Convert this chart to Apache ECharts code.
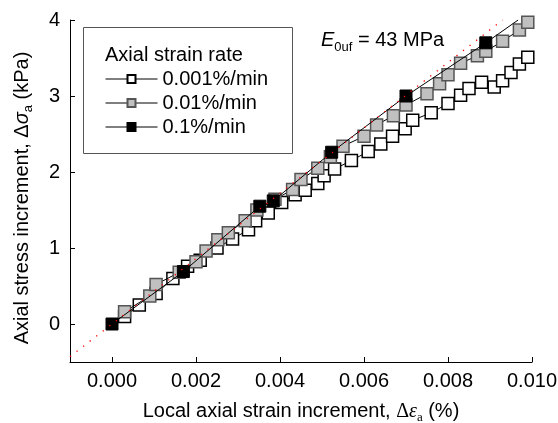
<!DOCTYPE html>
<html>
<head>
<meta charset="utf-8">
<script src="https://cdn.jsdelivr.net/npm/echarts@6/dist/echarts.min.js"></script>
<style>
  html, body { margin: 0; padding: 0; background: #fff; }
  #chart { width: 558px; height: 423px; }
</style>
</head>
<body>
<div id="chart"></div>
<script>
// tick labels
const xTicks = [0, 0.002, 0.004, 0.006, 0.008, 0.010];
const yTicks = [0, 1, 2, 3, 4];

// legend names
const rateNames = ['0.001%/min', '0.01%/min', '0.1%/min'];

// 0.001%/min (white squares)
const slowPts = [
  [0.0003, 0.10], [0.00065, 0.25], [0.00105, 0.40], [0.00145, 0.60], [0.0018, 0.76],
  [0.0021, 0.84], [0.0025, 1.00], [0.00287, 1.12], [0.00325, 1.24], [0.00342, 1.36],
  [0.00372, 1.46], [0.00404, 1.60], [0.00436, 1.70], [0.0046, 1.76], [0.0049, 1.85],
  [0.00505, 1.95], [0.0053, 2.04], [0.0057, 2.15], [0.0061, 2.27], [0.0064, 2.37],
  [0.00668, 2.47], [0.00698, 2.57], [0.00716, 2.68], [0.0076, 2.78], [0.0080, 2.90],
  [0.0083, 3.01], [0.0085, 3.10], [0.0088, 3.18], [0.0091, 3.12], [0.0093, 3.20],
  [0.0095, 3.31], [0.0097, 3.42], [0.0099, 3.51]
];

// 0.01%/min (grey squares)
const midPts = [
  [0.0003, 0.16], [0.0009, 0.37], [0.00105, 0.52], [0.0016, 0.68], [0.0020, 0.82],
  [0.00224, 0.96], [0.00252, 1.11], [0.00277, 1.20], [0.00317, 1.36], [0.00345, 1.50],
  [0.00388, 1.64], [0.0043, 1.77], [0.0045, 1.90], [0.0049, 2.05], [0.0052, 2.20],
  [0.0055, 2.34], [0.0060, 2.47], [0.0063, 2.62], [0.0067, 2.74], [0.0070, 2.88],
  [0.0075, 3.03], [0.0078, 3.16], [0.0080, 3.28], [0.0083, 3.43], [0.0087, 3.53],
  [0.0089, 3.59], [0.0093, 3.72], [0.0097, 3.87], [0.0099, 3.97]
];

// 0.1%/min (black squares) + end of its line
const fastPts = [
  [0, 0], [0.0017, 0.69], [0.00352, 1.55], [0.00384, 1.62], [0.00523, 2.26],
  [0.0070, 3.00], [0.0089, 3.70]
];
const fastLineEnd = [0.00967, 4.0];

// E0uf = 43 MPa reference line (red dots)
const modulusLine = [[-0.001, -0.43], [0.0093, 4.0]];

const FONT = 'Liberation Sans';

const chart = echarts.init(document.getElementById('chart'));

const squareSeries = function (name, pts, fill, border, z) {
  return {
    name: name,
    type: 'line',
    data: pts,
    symbol: 'rect',
    symbolSize: 12,
    z: z,
    itemStyle: { color: fill, borderColor: border, borderWidth: 1.5 },
    lineStyle: { color: '#000', width: 1 }
  };
};

const option = {
  animation: false,
  textStyle: { fontFamily: FONT },
  grid: { left: 70, right: 26, top: 20, bottom: 61, containLabel: false, outerBoundsMode: 'none' },
  title: {
    text: 'Axial strain rate',
    left: 100,
    top: 40,
    textStyle: { fontFamily: FONT, fontSize: 20, fontWeight: 'normal', color: '#000' }
  },
  legend: {
    data: rateNames,
    orient: 'vertical',
    left: 100,
    top: 64,
    itemWidth: 52,
    itemHeight: 10,
    itemGap: 4,
    textStyle: { fontFamily: FONT, fontSize: 20, color: '#000' },
    lineStyle: { color: '#000', width: 1 }
  },
  xAxis: {
    type: 'value',
    min: -0.001,
    max: 0.010,
    name: 'Local axial strain increment, {d|Δ}{e|ε}{sub|a} (%)',
    nameLocation: 'middle',
    nameGap: 37,
    nameTextStyle: {
      fontFamily: FONT, fontSize: 20, color: '#000',
      rich: {
        d: { fontFamily: 'Liberation Serif', fontSize: 20, color: '#000' },
        e: { fontFamily: 'Liberation Serif', fontStyle: 'italic', fontSize: 20, color: '#000' },
        sub: { fontFamily: 'Liberation Serif', fontSize: 13, color: '#000', padding: [12, 0, 0, 0] }
      }
    },
    splitLine: { show: false },
    axisLine: { onZero: false, lineStyle: { color: '#000', width: 1 } },
    axisTick: { inside: true, length: 5, customValues: xTicks, lineStyle: { color: '#000' } },
    axisLabel: {
      customValues: xTicks, margin: 9, fontSize: 20, color: '#000', fontFamily: FONT,
      formatter: v => v.toFixed(3)
    }
  },
  yAxis: {
    type: 'value',
    min: -0.5,
    max: 4,
    splitLine: { show: false },
    axisLine: { onZero: false, lineStyle: { color: '#000', width: 1 } },
    axisTick: { inside: true, length: 5, customValues: yTicks, lineStyle: { color: '#000' } },
    axisLabel: { customValues: yTicks, margin: 10, fontSize: 20, color: '#000', fontFamily: FONT }
  },
  graphic: [
    {
      type: 'rect',
      shape: { x: 83.5, y: 27.5, width: 209, height: 126 },
      style: { fill: 'none', stroke: '#555', lineWidth: 1 },
      z: 5
    },
    {
      // y axis title
      type: 'text',
      x: 22,
      y: 198,
      rotation: Math.PI / 2,
      style: {
        text: 'Axial stress increment, Δ{s|σ}{sub|a} (kPa)',
        fontFamily: FONT,
        fontSize: 20,
        fill: '#000',
        textAlign: 'center',
        textVerticalAlign: 'middle',
        rich: {
          s: { fontFamily: FONT, fontStyle: 'italic', fontSize: 20, fill: '#000' },
          sub: { fontFamily: FONT, fontSize: 13, fill: '#000', padding: [12, 0, 0, 0] }
        }
      },
      z: 10
    },
    {
      type: 'text',
      left: 321,
      top: 30,
      style: {
        text: '{e|E}{sub|0uf}{t| = 43 MPa}',
        rich: {
          e: { fontFamily: FONT, fontStyle: 'italic', fontSize: 20, fill: '#000' },
          sub: { fontFamily: FONT, fontSize: 13, fill: '#000', padding: [14, 0, 0, 0] },
          t: { fontFamily: FONT, fontSize: 20, fill: '#000' }
        }
      },
      z: 10
    }
  ],
  series: [
    squareSeries(rateNames[0], slowPts, '#fff', '#000', 2),
    squareSeries(rateNames[1], midPts, '#c0c0c0', '#555', 3),
    {
      name: rateNames[2],
      type: 'line',
      data: fastPts.map(p => p).concat([{ value: fastLineEnd, symbol: 'none' }]),
      symbol: 'rect',
      symbolSize: 12,
      z: 4,
      itemStyle: { color: '#000', borderColor: '#000', borderWidth: 1 },
      lineStyle: { color: '#000', width: 1 }
    },
    {
      name: 'E0uf',
      type: 'line',
      data: modulusLine,
      symbol: 'none',
      z: 6,
      lineStyle: { color: '#ff0000', width: 1.3, type: [1.3, 7] }
    }
  ]
};

chart.setOption(option);
</script>
</body>
</html>
